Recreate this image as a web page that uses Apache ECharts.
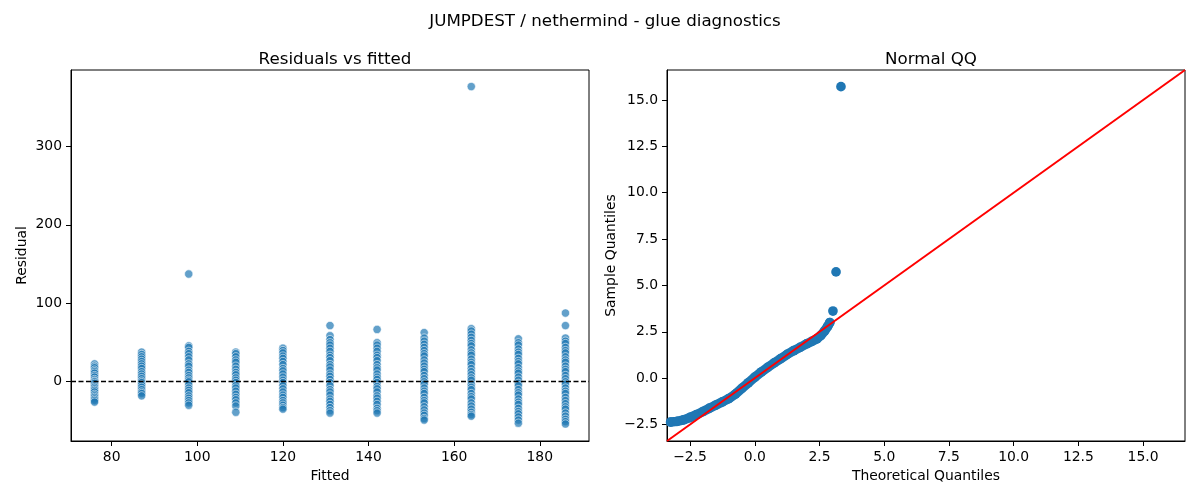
<!DOCTYPE html>
<html>
<head>
<meta charset="utf-8">
<title>JUMPDEST / nethermind - glue diagnostics</title>
<script src="https://cdn.jsdelivr.net/npm/echarts@6/dist/echarts.min.js"></script>
<style>
  html, body { margin: 0; padding: 0; background: #fff; }
  #main { width: 1200px; height: 500px; }
</style>
</head>
<body>
<div id="main"></div>
<script>
// fitted levels (x of the left panel)
var fittedLevels = [76, 87, 98, 109, 120, 131, 142, 153, 164, 175, 186];

// residuals, top to bottom
var res076 = [22, 19, 17, 14, 12, 10, 7, 5, 2, 0, -1, -3, -6, -8, -10, -12, -14, -17, -19, -21, -23, -25, -27];
var res087 = [37, 34, 31, 28, 25, 22, 19, 16, 12, 9, 6, 3, 0, -2, -5, -8, -11, -14, -16, -19];
var res098 = [137, 45, 43, 38, 35, 31, 27, 22, 19, 14, 11, 7, 4, 1, -1, -5, -9, -12, -15, -19, -22, -25, -28, -31];
var res109 = [37, 35, 31, 27, 24, 19, 15, 11, 8, 4, 1, -2, -6, -9, -13, -17, -21, -24, -28, -32, -40];
var res120 = [42, 39, 36, 32, 29, 25, 21, 16, 13, 9, 5, 1, -2, -6, -10, -14, -18, -21, -25, -28, -31, -34, -36];
var res131 = [71, 58, 53, 49, 46, 42, 38, 33, 30, 26, 21, 18, 14, 9, 6, 2, -2, -6, -11, -14, -18, -23, -26, -30, -34, -38, -41];
var res142 = [66, 49, 46, 42, 38, 33, 30, 26, 21, 17, 14, 9, 5, 2, -2, -7, -10, -14, -19, -22, -26, -30, -35, -38, -41];
var res153 = [62, 55, 51, 47, 43, 39, 35, 32, 27, 23, 19, 15, 12, 7, 3, -1, -4, -9, -13, -16, -21, -25, -28, -33, -37, -41, -44, -48, -50];
var res164 = [377, 67, 64, 60, 56, 52, 48, 45, 40, 36, 33, 28, 24, 21, 16, 12, 8, 4, 1, -4, -8, -11, -16, -20, -23, -28, -32, -36, -40, -43, -45];
var res175 = [54, 49, 46, 41, 37, 34, 29, 25, 22, 17, 13, 10, 5, 1, -3, -6, -11, -15, -18, -23, -27, -30, -35, -39, -42, -46, -50, -54];
var res186 = [87, 71, 55, 51, 48, 43, 39, 36, 31, 27, 24, 19, 15, 12, 7, 3, -1, -4, -9, -13, -16, -21, -25, -29, -33, -36, -41, -45, -49, -52, -55];
var residualColumns = [res076, res087, res098, res109, res120, res131, res142, res153, res164, res175, res186];

// normal QQ: body of the curve (theoretical, sample)
var qqTheoretical = [-3.25, -3.0, -2.75, -2.5, -2.25, -2.0, -1.75, -1.5, -1.25, -1.0, -0.75, -0.5, -0.25, 0.0, 0.25, 0.5, 0.75, 1.0, 1.25, 1.5, 1.75, 2.0, 2.2, 2.4, 2.55, 2.7, 2.82, 2.9];
var qqSample = [-2.37, -2.33, -2.25, -2.12, -1.97, -1.80, -1.62, -1.45, -1.28, -1.10, -0.86, -0.55, -0.25, 0.05, 0.33, 0.58, 0.82, 1.05, 1.28, 1.48, 1.66, 1.85, 1.98, 2.12, 2.30, 2.55, 2.80, 3.0];
// separated points at the top end
var qqTailTheoretical = [3.02, 3.14, 3.33];
var qqTailSample = [3.62, 5.73, 15.72];

// tick labels
var fittedTicks = [80, 100, 120, 140, 160, 180];
var residualTicks = [0, 100, 200, 300];
var qqTicks = [-2.5, 0, 2.5, 5, 7.5, 10, 12.5, 15];

var qqLim = [-3.39, 16.62];
var blue = '#1f77b4';
var font = 'DejaVu Sans';

var residData = [];
for (var i = 0; i < fittedLevels.length; i++) {
    for (var j = 0; j < residualColumns[i].length; j++) {
        residData.push([fittedLevels[i], residualColumns[i][j]]);
    }
}
var qqBody = [];
for (var k = 0; k < qqTheoretical.length; k++) {
    qqBody.push([qqTheoretical[k], qqSample[k]]);
}
var qqTail = [];
for (var t = 0; t < qqTailTheoretical.length; t++) {
    qqTail.push([qqTailTheoretical[t], qqTailSample[t]]);
}

function qqLabel(v) {
    return (v < 0 ? '\u2212' : '') + Math.abs(v).toFixed(1);
}

function axisBase(extra) {
    var a = {
        axisLine: { show: true, onZero: false, lineStyle: { color: '#000', width: 1 } },
        axisTick: { show: true, inside: false, length: 5, lineStyle: { color: '#000', width: 1 } },
        axisLabel: { color: '#000', fontFamily: font, fontSize: 13.9, margin: 9 },
        splitLine: { show: false },
        nameTextStyle: { color: '#000', fontFamily: font, fontSize: 13.9 },
        nameLocation: 'middle'
    };
    for (var key in extra) {
        if (typeof extra[key] === 'object' && a[key] && !Array.isArray(extra[key])) {
            for (var k2 in extra[key]) a[key][k2] = extra[key][k2];
        } else {
            a[key] = extra[key];
        }
    }
    return a;
}

var chart = echarts.init(document.getElementById('main'), null, { renderer: 'canvas' });

var option = {
    animation: false,
    backgroundColor: '#fff',
    title: [
        { text: 'JUMPDEST / nethermind - glue diagnostics', left: 600, textAlign: 'center', top: 8,
          textStyle: { color: '#000', fontFamily: font, fontSize: 16.7, fontWeight: 'normal' } },
        { text: 'Residuals vs fitted', left: 330, textAlign: 'center', top: 46,
          textStyle: { color: '#000', fontFamily: font, fontSize: 16.7, fontWeight: 'normal' } },
        { text: 'Normal QQ', left: 926, textAlign: 'center', top: 46,
          textStyle: { color: '#000', fontFamily: font, fontSize: 16.7, fontWeight: 'normal' } }
    ],
    grid: [
        { left: 71, top: 70, width: 518, height: 371, show: true, borderColor: '#000', borderWidth: 1, backgroundColor: 'transparent' },
        { left: 667, top: 70, width: 518, height: 371, show: true, borderColor: '#000', borderWidth: 1, backgroundColor: 'transparent' }
    ],
    xAxis: [
        axisBase({
            gridIndex: 0, type: 'value', min: 70.5, max: 191.5,
            name: 'Fitted', nameGap: 28,
            axisTick: { customValues: fittedTicks },
            axisLabel: { customValues: fittedTicks }
        }),
        axisBase({
            gridIndex: 1, type: 'value', min: qqLim[0], max: qqLim[1],
            name: 'Theoretical Quantiles', nameGap: 28,
            axisTick: { customValues: qqTicks },
            axisLabel: { customValues: qqTicks, formatter: qqLabel }
        })
    ],
    yAxis: [
        axisBase({
            gridIndex: 0, type: 'value', min: -76.8, max: 398.2,
            name: 'Residual', nameGap: 42, nameRotate: 90,
            axisTick: { customValues: residualTicks },
            axisLabel: { customValues: residualTicks }
        }),
        axisBase({
            gridIndex: 1, type: 'value', min: qqLim[0], max: qqLim[1],
            name: 'Sample Quantiles', nameGap: 49, nameRotate: 90,
            axisTick: { customValues: qqTicks },
            axisLabel: { customValues: qqTicks, formatter: qqLabel }
        })
    ],
    series: [
        {
            type: 'scatter', xAxisIndex: 0, yAxisIndex: 0,
            data: residData,
            symbolSize: 8.3,
            itemStyle: { color: blue, opacity: 0.7, borderColor: '#fff', borderWidth: 0.8 },
            markLine: {
                silent: true, symbol: 'none', label: { show: false },
                lineStyle: { color: '#000', width: 1.4, type: [5, 2.5] },
                data: [{ yAxis: 0 }]
            },
            z: 2
        },
        {
            type: 'line', xAxisIndex: 1, yAxisIndex: 1,
            data: qqBody, showSymbol: false, smooth: false,
            lineStyle: { color: blue, width: 9.5, cap: 'round', join: 'round' },
            z: 2
        },
        {
            type: 'scatter', xAxisIndex: 1, yAxisIndex: 1,
            data: qqBody.concat(qqTail), symbolSize: 9.7,
            itemStyle: { color: blue, opacity: 1 },
            z: 3
        },
        {
            type: 'line', xAxisIndex: 1, yAxisIndex: 1,
            data: [[qqLim[0], qqLim[0]], [qqLim[1], qqLim[1]]],
            showSymbol: false,
            lineStyle: { color: '#ff0000', width: 2 },
            z: 4
        }
    ]
};

chart.setOption(option);
</script>
</body>
</html>
